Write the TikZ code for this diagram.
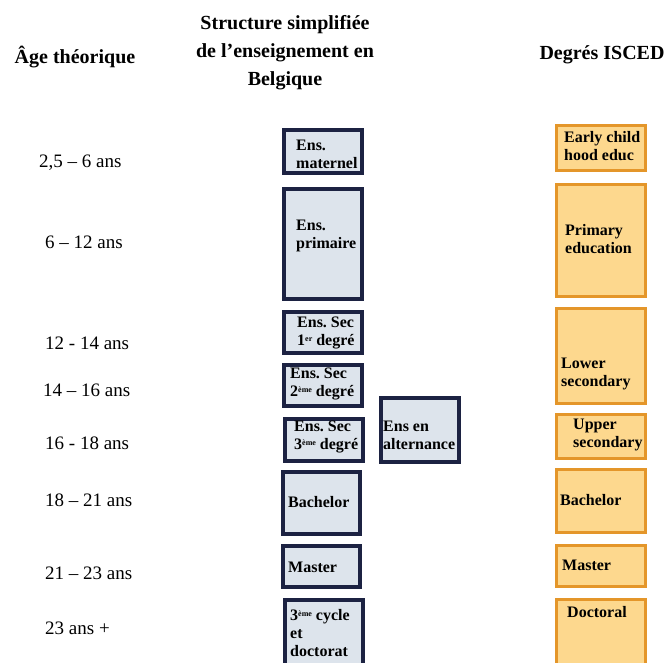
\documentclass[tikz,border=0pt]{standalone}
\usepackage{fontspec}
\setmainfont{Liberation Serif}
\usepackage{tikz}
\usetikzlibrary{fit, positioning}

\definecolor{ensfill}{RGB}{221,228,236}
\definecolor{ensline}{RGB}{28,34,66}
\definecolor{iscfill}{RGB}{253,216,142}
\definecolor{iscline}{RGB}{228,150,42}

\newcommand{\ordsup}[1]{\raisebox{0.55ex}{\fontsize{8}{8}\selectfont #1}}
\frenchspacing

\begin{document}
\begin{tikzpicture}[x=1pt,y=-1pt,
  ens/.style={draw=ensline,fill=ensfill,line width=3.6pt,inner sep=0pt},
  isc/.style={draw=iscline,fill=iscfill,line width=3pt,inner sep=0pt},
  boxtxt/.style={anchor=west,inner sep=0pt,align=left,font=\fontsize{16}{18}\selectfont\bfseries},
  head/.style={inner sep=0pt,align=center,font=\fontsize{20}{28}\selectfont\bfseries},
  age/.style={anchor=west,inner sep=0pt,font=\fontsize{19}{22}\selectfont}]
  \useasboundingbox (0,0) rectangle (665,663);
  \clip (0,0) rectangle (665,663);

  % headers
  \node[head] (hage) at (75,57)  {Âge théorique};
  \node[head] (hstr) at (285,53) {Structure simplifiée\\de l’enseignement en\\Belgique};
  \node[head] (hisc) at (602,55) {Degrés ISCED};

  % ages
  \node[age] (a1) at (39,163) {2,5 – 6 ans};
  \node[age] (a2) at (45,242) {6 – 12 ans};
  \node[age] (a3) at (45,343) {12 - 14 ans};
  \node[age] (a4) at (43,390) {14 – 16 ans};
  \node[age] (a5) at (45,443) {16 - 18 ans};
  \node[age] (a6) at (45,500) {18 – 21 ans};
  \node[age] (a7) at (45,573) {21 – 23 ans};
  \node[age] (a8) at (45,628) {23 ans +};

  % enseignement en Belgique
  \node[ens, fit={(284,130) (362,173)}] (mat)  {};
  \node[ens, fit={(284,189) (362,299)}] (prim) {};
  \node[ens, fit={(284,312) (362,353)}] (sec1) {};
  \node[ens, fit={(284,365) (362,406)}] (sec2) {};
  \node[ens, fit={(285,419) (363,461)}] (sec3) {};
  \node[ens, fit={(381,398) (459,462)}] (alt)  {};
  \node[ens, fit={(283,472) (360,534)}] (bach) {};
  \node[ens, fit={(283,546) (360,587)}] (mast) {};
  \node[ens, fit={(285,600) (363,672)}] (doct) {};

  \node[boxtxt] (matT)  at (296,154) {Ens.\\maternel};
  \node[boxtxt] (primT) at (296,236) {Ens.\\primaire};
  \node[boxtxt] (sec1T) at (297,333) {Ens. Sec\\1\ordsup{er} degré};
  \node[boxtxt] (sec2T) at (290,384) {Ens. Sec\\2\ordsup{ème} degré};
  \node[boxtxt] (sec3T) at (294,437) {Ens. Sec\\3\ordsup{ème} degré};
  \node[boxtxt] (altT)  at (383,435) {Ens en\\alternance};
  \node[boxtxt] (bachT) at (288,502) {Bachelor};
  \node[boxtxt] (mastT) at (288,567) {Master};
  \node[boxtxt] (doctT) at (290,633) {3\ordsup{ème} cycle\\et\\doctorat};

  % ISCED
  \node[isc, fit={(556,126) (645,171)}] (i0) {};
  \node[isc, fit={(556,185) (645,297)}] (i1) {};
  \node[isc, fit={(556,309) (645,404)}] (i2) {};
  \node[isc, fit={(556,415) (645,459)}] (i3) {};
  \node[isc, fit={(556,470) (645,532)}] (i6) {};
  \node[isc, fit={(556,545) (645,586)}] (i7) {};
  \node[isc, fit={(556,599) (645,672)}] (i8) {};

  \node[boxtxt] (i0T) at (564,146) {Early child\\hood educ};
  \node[boxtxt] (i1T) at (565,239) {Primary\\education};
  \node[boxtxt] (i2T) at (561,374) {Lower\\secondary};
  \node[boxtxt] (i3T) at (573,435) {Upper\\secondary};
  \node[boxtxt] (i6T) at (560,500) {Bachelor};
  \node[boxtxt] (i7T) at (562,565) {Master};
  \node[boxtxt] (i8T) at (567,612) {Doctoral};
\end{tikzpicture}
\end{document}
